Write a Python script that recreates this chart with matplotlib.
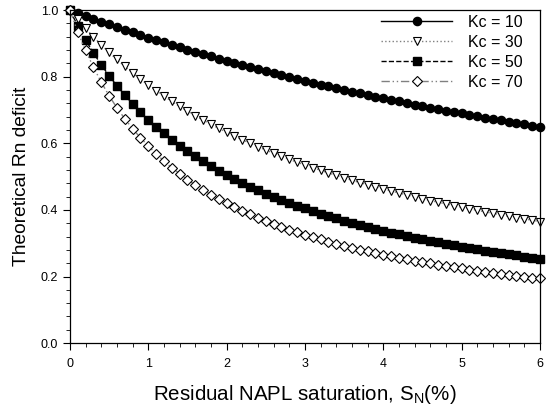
import numpy as np
import matplotlib
matplotlib.use("Agg")
import matplotlib.pyplot as plt
from matplotlib.ticker import MultipleLocator, FormatStrFormatter

plt.rcParams["font.family"] = ["Liberation Sans", "DejaVu Sans"]

# Residual NAPL saturation (%) - points every 0.1
sn = [round(0.1 * i, 1) for i in range(61)]

kc10 = [1.000, 0.991, 0.982, 0.974, 0.965, 0.957, 0.949, 0.941, 0.933, 0.925,
        0.917, 0.910, 0.903, 0.895, 0.888, 0.881, 0.874, 0.867, 0.861, 0.854,
        0.847, 0.841, 0.835, 0.829, 0.822, 0.816, 0.810, 0.805, 0.799, 0.793,
        0.787, 0.782, 0.776, 0.771, 0.766, 0.760, 0.755, 0.750, 0.745, 0.740,
        0.735, 0.730, 0.726, 0.721, 0.716, 0.712, 0.707, 0.703, 0.698, 0.694,
        0.690, 0.685, 0.681, 0.677, 0.673, 0.669, 0.665, 0.661, 0.657, 0.653,
        0.649]
kc30 = [1.000, 0.972, 0.945, 0.920, 0.896, 0.873, 0.852, 0.831, 0.812, 0.793,
        0.775, 0.758, 0.742, 0.726, 0.711, 0.697, 0.683, 0.670, 0.657, 0.645,
        0.633, 0.622, 0.611, 0.600, 0.590, 0.580, 0.570, 0.561, 0.552, 0.543,
        0.535, 0.527, 0.519, 0.511, 0.504, 0.496, 0.489, 0.482, 0.476, 0.469,
        0.463, 0.457, 0.451, 0.445, 0.439, 0.434, 0.428, 0.423, 0.418, 0.413,
        0.408, 0.403, 0.399, 0.394, 0.390, 0.385, 0.381, 0.377, 0.373, 0.369,
        0.365]
kc50 = [1.000, 0.953, 0.911, 0.872, 0.836, 0.803, 0.773, 0.745, 0.718, 0.694,
        0.671, 0.650, 0.630, 0.611, 0.593, 0.576, 0.561, 0.546, 0.531, 0.518,
        0.505, 0.493, 0.481, 0.470, 0.460, 0.449, 0.440, 0.430, 0.422, 0.413,
        0.405, 0.397, 0.389, 0.382, 0.375, 0.368, 0.362, 0.355, 0.349, 0.344,
        0.338, 0.332, 0.327, 0.322, 0.317, 0.312, 0.307, 0.303, 0.298, 0.294,
        0.290, 0.286, 0.282, 0.278, 0.274, 0.271, 0.267, 0.264, 0.260, 0.257,
        0.254]
kc70 = [1.000, 0.935, 0.879, 0.829, 0.784, 0.743, 0.707, 0.674, 0.644, 0.617,
        0.592, 0.569, 0.547, 0.527, 0.509, 0.491, 0.475, 0.460, 0.446, 0.433,
        0.420, 0.408, 0.397, 0.387, 0.377, 0.367, 0.358, 0.349, 0.341, 0.333,
        0.326, 0.319, 0.312, 0.305, 0.299, 0.293, 0.287, 0.281, 0.276, 0.271,
        0.266, 0.261, 0.257, 0.252, 0.248, 0.244, 0.240, 0.236, 0.232, 0.228,
        0.225, 0.221, 0.218, 0.215, 0.212, 0.209, 0.206, 0.203, 0.200, 0.197,
        0.195]

labels = ["Kc = 10", "Kc = 30", "Kc = 50", "Kc = 70"]

fig = plt.figure(figsize=(5.46, 4.07), dpi=100)
ax = fig.add_axes([0.128, 0.157, 0.861, 0.818])

ax.plot(sn, kc10, "-", color="black", lw=1, marker="o", ms=5.9,
        mfc="black", mec="black", clip_on=False, label=labels[0])
ax.plot(sn, kc30, ":", color="gray", lw=1, marker="v", ms=6.0,
        mfc="white", mec="black", mew=0.8, clip_on=False, label=labels[1])
ax.plot(sn, kc50, "--", color="black", lw=1, marker="s", ms=5.3,
        mfc="black", mec="black", clip_on=False, label=labels[2])
ax.plot(sn, kc70, color="gray", lw=1, ls=(0, (6, 2, 1, 2, 1, 2)), marker="D",
        ms=4.9, mfc="white", mec="black", mew=0.8, clip_on=False, label=labels[3])

ax.set_xlim(0, 6)
ax.set_ylim(0, 1.0)
ax.xaxis.set_major_locator(MultipleLocator(1))
ax.xaxis.set_minor_locator(MultipleLocator(0.2))
ax.yaxis.set_major_locator(MultipleLocator(0.2))
ax.yaxis.set_minor_locator(MultipleLocator(0.04))
ax.yaxis.set_major_formatter(FormatStrFormatter("%.1f"))
ax.tick_params(which="both", direction="out", labelsize=9)
ax.tick_params(which="major", length=5)
ax.tick_params(which="minor", length=3)
ax.tick_params(axis="x", which="major", pad=6)
for sp in ax.spines.values():
    sp.set_linewidth(0.9)

ax.set_xlabel("Residual NAPL saturation, S$_\\mathregular{N}$(%)", fontsize=14.8, labelpad=9)
ax.set_ylabel("Theoretical Rn deficit", fontsize=13.8, labelpad=8)

ax.legend(loc="upper right", bbox_to_anchor=(0.964, 0.986), fontsize=11.5,
          frameon=False, handlelength=4.4, borderpad=0, borderaxespad=0,
          labelspacing=0.31, handletextpad=1.05)

fig.savefig("out.png", dpi=100)
